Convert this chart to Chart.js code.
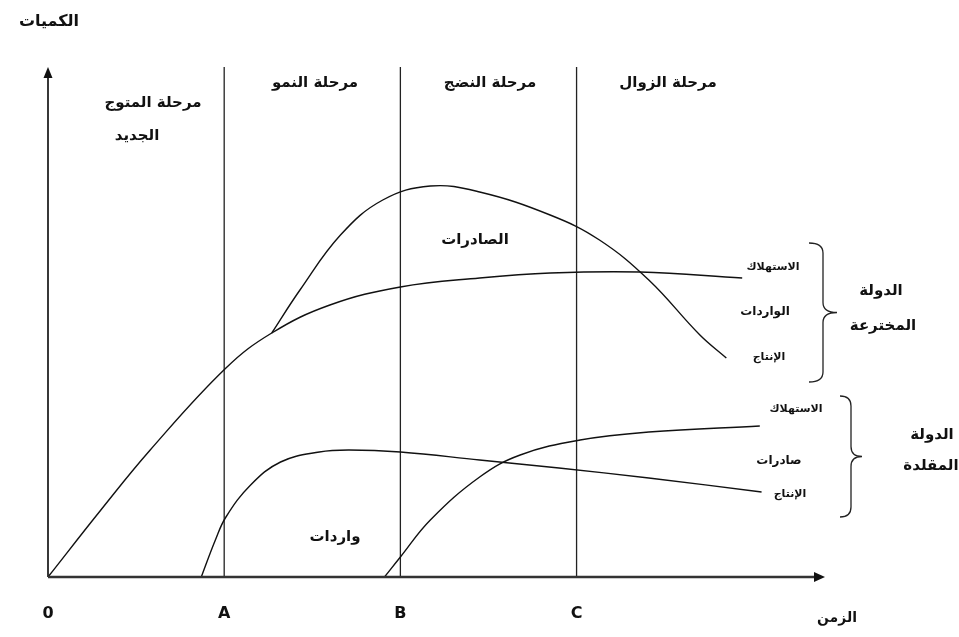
<!DOCTYPE html>
<html>
<head>
<meta charset="utf-8">
<script src="https://cdn.jsdelivr.net/npm/chart.js@4/dist/chart.umd.min.js"></script>
<style>
  html, body { margin: 0; padding: 0; background: #fff; }
  #wrap { width: 959px; height: 637px; }
</style>
</head>
<body>
<div id="wrap"><canvas id="cycleChart" width="959" height="637"></canvas></div>
<script>
// time axis: 0, A, B, C ; quantities in arbitrary units
const tickX = [0, 1, 2, 3];
const tickLabels = ["0", "A", "B", "C"];
const stageBounds = [1, 2, 3];

// innovating country - production
const prodInnovX = [0, 0.3, 0.58, 1.01, 1.27, 1.6, 2.0, 2.45, 2.85, 3.36, 3.94];
const prodInnovY = [0, 13.4, 25.4, 41.8, 48.8, 54.4, 58, 59.8, 60.8, 61, 59.8];

// innovating country - exports hump
const exportsX = [1.27, 1.43, 1.66, 1.9, 2.17, 2.45, 2.85, 3.13, 3.41, 3.7, 3.85];
const exportsY = [48.8, 57.4, 68.4, 75.4, 78.2, 77, 72.4, 67.4, 59.4, 48.4, 43.8];

// imitating country - consumption
const consImitX = [0.87, 0.95, 1.01, 1.15, 1.32, 1.54, 1.71, 2.0, 2.45, 2.9, 3.41, 4.05];
const consImitY = [0, 7.4, 12, 18.4, 23, 25, 25.4, 25, 23.4, 21.8, 19.8, 17];

// imitating country - production
const prodImitX = [1.91, 2.0, 2.17, 2.45, 2.68, 3.02, 3.41, 4.04];
const prodImitY = [0, 4, 11.4, 20, 24.4, 27.4, 29, 30.2];

const xMax = 4.41;
const yMax = 102;

function pts(xs, ys) {
    return xs.map((x, i) => ({ x: x, y: ys[i] }));
}

function curve(xs, ys) {
    return {
        data: pts(xs, ys),
        showLine: true,
        borderColor: "#111",
        borderWidth: 1.4,
        pointRadius: 0,
        tension: 0.4,
        fill: false
    };
}

const datasets = [
    curve(prodInnovX, prodInnovY),
    curve(exportsX, exportsY),
    curve(consImitX, consImitY),
    curve(prodImitX, prodImitY)
];

stageBounds.forEach(b => {
    datasets.push({
        data: [{ x: b, y: 0 }, { x: b, y: yMax }],
        showLine: true,
        borderColor: "#222",
        borderWidth: 1.3,
        pointRadius: 0
    });
});

// text labels (pixel positions)
const texts = [
    { t: "الكميات", x: 49, y: 22, s: 16 },
    { t: "مرحلة المتوج", x: 153, y: 103, s: 15 },
    { t: "الجديد", x: 137, y: 136, s: 15 },
    { t: "مرحلة النمو", x: 315, y: 83, s: 15 },
    { t: "مرحلة النضج", x: 490, y: 83, s: 15 },
    { t: "مرحلة الزوال", x: 668, y: 83, s: 15 },
    { t: "الصادرات", x: 475, y: 240, s: 15 },
    { t: "الاستهلاك", x: 773, y: 267, s: 11 },
    { t: "الواردات", x: 765, y: 312, s: 12 },
    { t: "الإنتاج", x: 769, y: 357, s: 11 },
    { t: "الدولة", x: 881, y: 291, s: 15 },
    { t: "المخترعة", x: 883, y: 326, s: 15 },
    { t: "الاستهلاك", x: 796, y: 409, s: 11 },
    { t: "صادرات", x: 779, y: 461, s: 12 },
    { t: "الإنتاج", x: 790, y: 494, s: 11 },
    { t: "الدولة", x: 932, y: 435, s: 15 },
    { t: "المقلدة", x: 931, y: 466, s: 15 },
    { t: "واردات", x: 335, y: 537, s: 15 },
    { t: "الزمن", x: 837, y: 618, s: 14 }
];

function drawBrace(ctx, x, y1, y2, w) {
    const mid = (y1 + y2) / 2;
    const r = 10;
    ctx.beginPath();
    ctx.moveTo(x, y1);
    ctx.quadraticCurveTo(x + w, y1, x + w, y1 + r);
    ctx.lineTo(x + w, mid - r);
    ctx.quadraticCurveTo(x + w, mid, x + 2 * w, mid);
    ctx.quadraticCurveTo(x + w, mid, x + w, mid + r);
    ctx.lineTo(x + w, y2 - r);
    ctx.quadraticCurveTo(x + w, y2, x, y2);
    ctx.stroke();
}

const diagramPlugin = {
    id: "diagram",
    afterDatasetsDraw(chart) {
        const ctx = chart.ctx;
        const xs = chart.scales.x;
        const ys = chart.scales.y;
        const x0 = xs.getPixelForValue(0);
        const y0 = ys.getPixelForValue(0);
        const xEnd = xs.getPixelForValue(xMax);
        const yTop = ys.getPixelForValue(yMax);

        ctx.save();
        ctx.strokeStyle = "#222";
        ctx.fillStyle = "#111";

        // y axis
        ctx.lineWidth = 1.8;
        ctx.beginPath();
        ctx.moveTo(x0, y0);
        ctx.lineTo(x0, yTop + 8);
        ctx.stroke();
        ctx.beginPath();
        ctx.moveTo(x0, yTop);
        ctx.lineTo(x0 - 4.5, yTop + 11);
        ctx.lineTo(x0 + 4.5, yTop + 11);
        ctx.closePath();
        ctx.fill();

        // x axis
        ctx.strokeStyle = "#333";
        ctx.lineWidth = 2.6;
        ctx.beginPath();
        ctx.moveTo(x0, y0);
        ctx.lineTo(xEnd - 8, y0);
        ctx.stroke();
        ctx.beginPath();
        ctx.moveTo(xEnd, y0);
        ctx.lineTo(xEnd - 11, y0 - 5);
        ctx.lineTo(xEnd - 11, y0 + 5);
        ctx.closePath();
        ctx.fill();

        // tick letters
        ctx.font = "bold 16px 'DejaVu Sans', sans-serif";
        ctx.textAlign = "center";
        ctx.textBaseline = "middle";
        tickX.forEach((v, i) => {
            ctx.fillText(tickLabels[i], xs.getPixelForValue(v), y0 + 37);
        });

        // braces
        ctx.strokeStyle = "#222";
        ctx.lineWidth = 1.3;
        drawBrace(ctx, 809, 243, 382, 14);
        drawBrace(ctx, 840, 396, 517, 11);

        // arabic labels
        ctx.direction = "rtl";
        texts.forEach(l => {
            ctx.font = "bold " + l.s + "px 'DejaVu Sans', sans-serif";
            ctx.fillText(l.t, l.x, l.y);
        });
        ctx.restore();
    }
};

new Chart(document.getElementById("cycleChart").getContext("2d"), {
    type: "scatter",
    data: { datasets: datasets },
    options: {
        responsive: false,
        animation: false,
        layout: { padding: { left: 48, right: 959 - 825, top: 67, bottom: 60 } },
        plugins: {
            legend: { display: false },
            tooltip: { enabled: false }
        },
        scales: {
            x: { type: "linear", min: 0, max: xMax, display: false },
            y: { type: "linear", min: 0, max: yMax, display: false }
        }
    },
    plugins: [diagramPlugin]
});
</script>
</body>
</html>
